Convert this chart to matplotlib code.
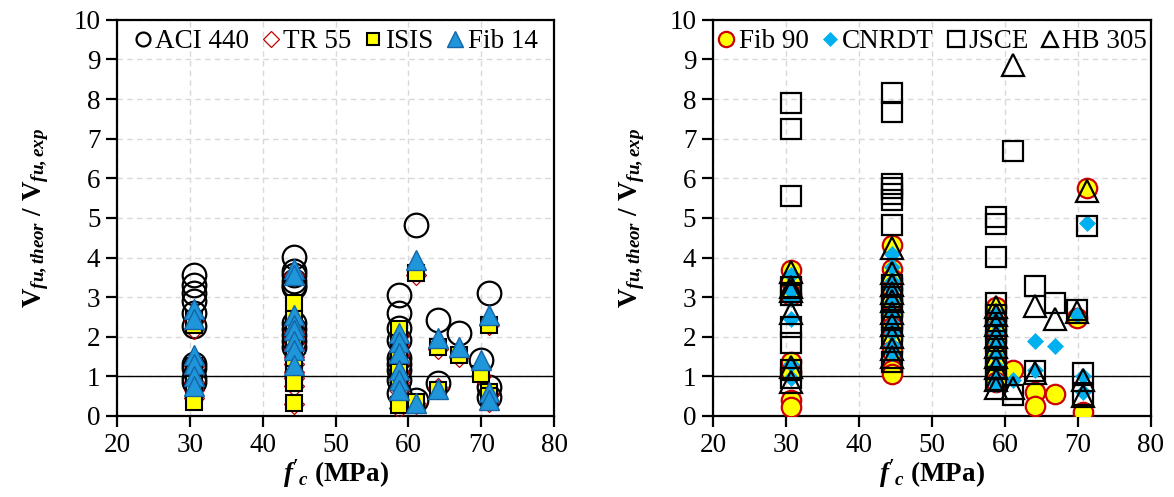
import matplotlib
matplotlib.use("Agg")
import matplotlib.pyplot as plt
from matplotlib.lines import Line2D

plt.rcParams['font.family'] = 'Liberation Serif'
plt.rcParams['mathtext.fontset'] = 'custom'
plt.rcParams['mathtext.rm'] = 'Liberation Serif'
plt.rcParams['mathtext.it'] = 'Liberation Serif:italic'
plt.rcParams['mathtext.bf'] = 'Liberation Serif:bold'
plt.rcParams['mathtext.bfit'] = 'Liberation Serif:italic:bold'

# ---- left panel: fc (MPa) -> ratios
aci440 = {30.5: [3.55, 3.3, 3.1, 2.9, 2.6, 2.28, 1.3, 1.2, 0.95, 0.85],
          44.3: [4.02, 3.65, 3.55, 3.4, 3.3, 3.25, 2.35, 2.2, 2.05, 1.9, 1.75],
          58.7: [3.05, 2.6, 2.22, 1.92, 1.46, 1.3, 1.16, 0.9, 0.58],
          61.1: [4.82, 0.4], 64.1: [2.42, 0.84], 67.0: [2.1], 69.9: [1.41],
          71.0: [3.1, 0.74, 0.48]}
tr55 = {30.5: [2.4, 2.2, 1.25, 1.05, 0.85, 0.65, 0.45],
        44.3: [3.55, 2.3, 2.15, 2.0, 1.85, 1.7, 1.5, 1.3, 1.1, 0.95, 0.75, 0.3],
        58.7: [2.05, 1.8, 1.55, 1.35, 1.1, 0.85, 0.65, 0.45, 0.2],
        61.1: [3.55, 0.3], 64.1: [1.7, 0.7], 67.0: [1.48], 69.9: [1.0],
        71.0: [2.3, 0.55, 0.35]}
isis = {30.5: [2.45, 2.3, 1.25, 1.05, 0.8, 0.35],
        44.3: [2.85, 2.45, 2.2, 2.0, 1.85, 1.6, 1.3, 1.05, 0.83, 0.33],
        58.7: [2.2, 1.85, 1.6, 1.1, 0.86, 0.28],
        61.1: [3.62, 0.35], 64.1: [1.75, 0.66], 67.0: [1.55], 69.9: [1.06],
        71.0: [2.3, 0.6, 0.5]}
fib14 = {30.5: [2.7, 2.45, 1.55, 1.3, 1.0, 0.75],
         44.3: [3.7, 3.55, 2.55, 2.3, 2.17, 1.9, 1.67, 1.29],
         58.7: [2.1, 1.87, 1.59, 1.16, 0.9, 0.66],
         61.1: [3.94, 0.32], 64.1: [1.96, 0.68], 67.0: [1.75], 69.9: [1.42],
         71.0: [2.55, 0.6, 0.4]}

# ---- right panel
fib90 = {30.7: [3.69, 3.4, 3.05, 1.36, 1.1, 0.4, 0.23],
         44.5: [4.32, 3.7, 3.45, 3.2, 2.9, 2.55, 2.25, 1.95, 1.65, 1.16, 1.05],
         58.8: [2.75, 2.45, 2.2, 1.9, 1.6, 1.3, 1.0, 0.85],
         61.1: [1.16], 64.1: [0.6, 0.24], 66.8: [0.55], 69.9: [2.47],
         70.7: [0.1], 71.2: [5.75]}
cnrdt = {30.7: [3.55, 3.15, 2.95, 2.45, 1.3, 0.95],
         44.5: [4.1, 3.75, 3.4, 3.2, 2.9, 2.6, 2.35, 2.1, 1.8, 1.6],
         58.8: [2.6, 2.35, 2.1, 1.85, 1.55, 1.25, 0.95, 0.8],
         61.1: [0.9], 64.1: [1.9, 1.16], 66.8: [1.77], 69.9: [2.55],
         70.7: [1.0, 0.6], 71.2: [4.87]}
jsce = {30.7: [7.9, 7.25, 5.56, 3.25, 3.05, 2.25, 1.84, 1.16, 0.95],
        44.5: [8.15, 7.68, 5.85, 5.75, 5.6, 5.45, 4.82, 3.3, 3.0, 2.75, 2.42, 1.97, 1.36],
        58.8: [5.03, 4.85, 4.02, 2.86, 2.55, 2.2, 1.9, 1.5, 1.2, 0.9],
        61.1: [6.68, 0.53], 64.1: [3.28, 1.14], 66.8: [2.86], 69.9: [2.68],
        70.7: [1.09, 0.53], 71.2: [4.8]}
hb305 = {30.7: [3.64, 3.26, 3.15, 2.6, 1.24, 0.87],
         44.5: [4.24, 3.6, 3.3, 3.1, 2.9, 2.6, 2.3, 2.0, 1.7, 1.5],
         58.8: [2.75, 2.55, 2.3, 2.0, 1.75, 1.5, 1.2, 0.9, 0.7],
         61.1: [8.85, 0.7], 64.1: [2.78, 1.09], 66.8: [2.45], 69.9: [2.63],
         70.7: [0.9, 0.5], 71.2: [5.67]}

def flat(d):
    xs, ys = [], []
    for k, v in d.items():
        xs += [k] * len(v)
        ys += v
    return xs, ys

left_series = [
    ("ACI 440", aci440, dict(marker='o', ms=17, mfc='none', mec='black', mew=1.6), dict(ms=10)),
    ("TR 55", tr55, dict(marker='D', ms=10, mfc='none', mec='#C00000', mew=0.9), dict(ms=8)),
    ("ISIS", isis, dict(marker='s', ms=11, mfc='#FFFF00', mec='black', mew=1.5), dict(ms=9)),
    ("Fib 14", fib14, dict(marker='^', ms=14, mfc='#1F96DA', mec='#1565A8', mew=1.0), dict(ms=11)),
]
right_series = [
    ("Fib 90", fib90, dict(marker='o', ms=14, mfc='#FFFF00', mec='#CC0000', mew=1.6), dict(ms=11)),
    ("CNRDT", cnrdt, dict(marker='D', ms=8, mfc='#00B0F0', mec='#00B0F0', mew=0.5), dict(ms=7)),
    ("JSCE", jsce, dict(marker='s', ms=15, mfc='none', mec='black', mew=1.6), dict(ms=11)),
    ("HB 305", hb305, dict(marker='^', ms=16, mfc='none', mec='black', mew=1.6), dict(ms=12)),
]

fig = plt.figure(figsize=(11.74, 4.97), dpi=100)
ax1 = fig.add_axes([0.0997, 0.163, 0.3723, 0.797])
ax2 = fig.add_axes([0.6073, 0.163, 0.3731, 0.797])

FS = 19.5
for ax, series in [(ax1, left_series), (ax2, right_series)]:
    ax.set_xlim(20, 80)
    ax.set_ylim(0, 10)
    ax.set_xticks(range(20, 81, 10))
    ax.set_yticks(range(0, 11))
    ax.grid(True, color='#D9D9D9', linestyle=(0, (4, 3)), linewidth=1.0)
    ax.set_axisbelow(True)
    ax.axhline(1.0, color='black', linewidth=1.0, zorder=1.5)
    for s in ax.spines.values():
        s.set_linewidth(1.6)
    ax.tick_params(direction='out', length=8, width=1.6, labelsize=FS, pad=4)
    handles = []
    for label, data, style, lstyle in series:
        xs, ys = flat(data)
        ax.plot(xs, ys, linestyle='none', zorder=3, **style)
        hs = dict(style)
        hs.update(lstyle)
        handles.append(Line2D([], [], linestyle='none', label=label, **hs))
    ax.legend(handles=handles, loc='upper center', ncol=4, frameon=False,
              fontsize=FS, handlelength=0.7, handletextpad=0.1,
              columnspacing=0.45, borderaxespad=0.05, borderpad=0.3,
              bbox_to_anchor=(0.5, 1.0))
    ax.set_xlabel(r"$\mathbfit{f'}_{\mathbfit{c}}$ (MPa)", fontsize=FS,
                  fontweight='bold', labelpad=0)
    ax.set_ylabel(r"$\mathbf{V}_{\mathbfit{fu,theor}}$ $\mathbf{/}$ $\mathbf{V}_{\mathbfit{fu,exp}}$",
                  fontsize=FS, labelpad=16)

fig.savefig("out.png", dpi=100)
